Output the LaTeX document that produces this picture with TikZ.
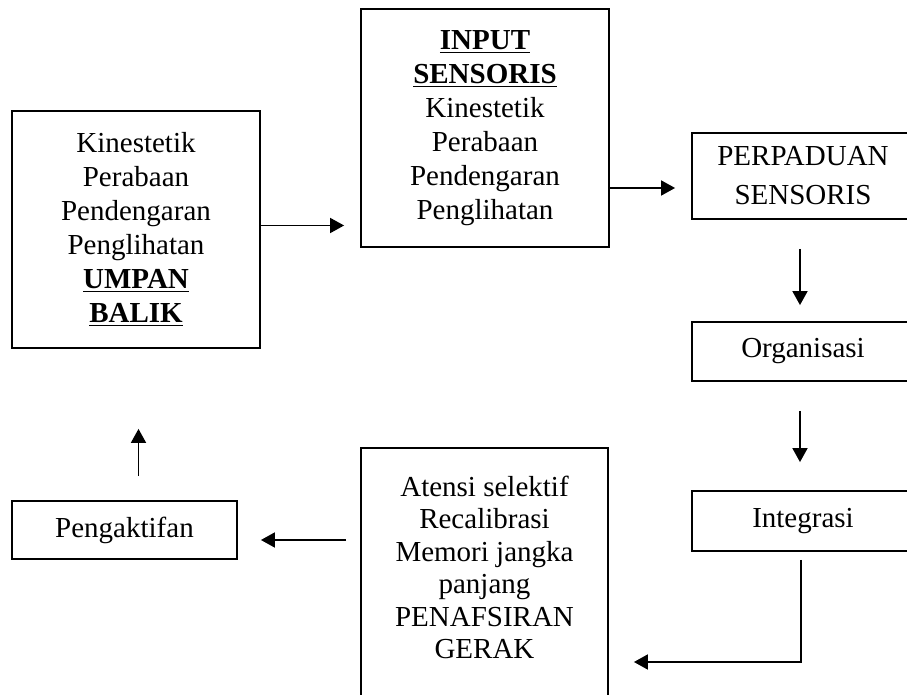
\documentclass[tikz,border=0pt]{standalone}
\usepackage{fontspec}
\setmainfont{Liberation Serif}
\usetikzlibrary{arrows.meta, positioning, calc}

\begin{document}
\begin{tikzpicture}[
    x=0.5pt, y=-0.5pt,
    box/.style={draw=black, line width=0.9pt, align=center, inner sep=0pt,
                font=\fontsize{14.5pt}{17pt}\selectfont},
    arr/.style={-{Triangle[length=7pt, width=7.5pt]}, line width=0.9pt}
]
\path[use as bounding box, clip] (0,0) rectangle (907,695);
% feedback and input boxes
\node[box, minimum width=124pt, minimum height=118.5pt] (umpan) at (136,229.5)
  {Kinestetik\\Perabaan\\Pendengaran\\Penglihatan\\
   \underline{\textbf{UMPAN}}\\\underline{\textbf{BALIK}}};
\node[box, minimum width=124pt, minimum height=119pt] (input) at (485,128)
  {\underline{\textbf{INPUT}}\\\underline{\textbf{SENSORIS}}\\
   Kinestetik\\Perabaan\\Pendengaran\\Penglihatan};
% right column (runs past the page edge)
\node[box, minimum width=111pt, minimum height=43pt,
      font=\fontsize{14.5pt}{19.5pt}\selectfont] (perpaduan) at (803,176)
  {PERPADUAN\\SENSORIS};
\node[box, minimum width=111pt, minimum height=29.5pt] (organisasi) at (803,351.5)
  {Organisasi};
\node[box, minimum width=111pt, minimum height=30pt] (integrasi) at (803,521)
  {Integrasi};
% lower row
\node[box, anchor=north, minimum width=123.5pt, inner ysep=14pt,
      font=\fontsize{14.5pt}{16.25pt}\selectfont] (penafsiran) at (484.5,447)
  {Atensi selektif\\Recalibrasi\\Memori jangka\\panjang\\
   PENAFSIRAN\\GERAK\\\mbox{}\\\mbox{}};
\node[box, minimum width=112.5pt, minimum height=29pt] (pengaktifan) at (124.5,530)
  {Pengaktifan};
\coordinate (bend) at (801,662);
% connectors
\draw[arr, shorten >=8pt] ([yshift=2pt]umpan.east)
  -- ([yshift=2pt]input.west |- umpan.east);
\draw[arr, shorten >=8pt] ([yshift=-6pt]input.east |- perpaduan.west)
  -- ([yshift=-6pt]perpaduan.west);
\draw[arr, shorten <=14.5pt, shorten >=8pt] ([xshift=-1.5pt]perpaduan.south)
  -- ([xshift=-1.5pt]organisasi.north);
\draw[arr, shorten <=14.5pt, shorten >=14pt] ([xshift=-1.5pt]organisasi.south)
  -- ([xshift=-1.5pt]integrasi.north);
\draw[arr, shorten <=4pt, shorten >=12.5pt] (integrasi.south -| bend)
  -- (bend) -- (penafsiran.east |- bend);
\draw[arr, shorten <=7pt, shorten >=11.5pt] ([yshift=-5pt]penafsiran.west |- pengaktifan.east)
  -- ([yshift=-5pt]pengaktifan.east);
\draw[arr, shorten <=12pt, shorten >=40pt] ([xshift=7pt]pengaktifan.north)
  -- ([xshift=7pt]pengaktifan.north |- umpan.south);
\end{tikzpicture}
\end{document}
